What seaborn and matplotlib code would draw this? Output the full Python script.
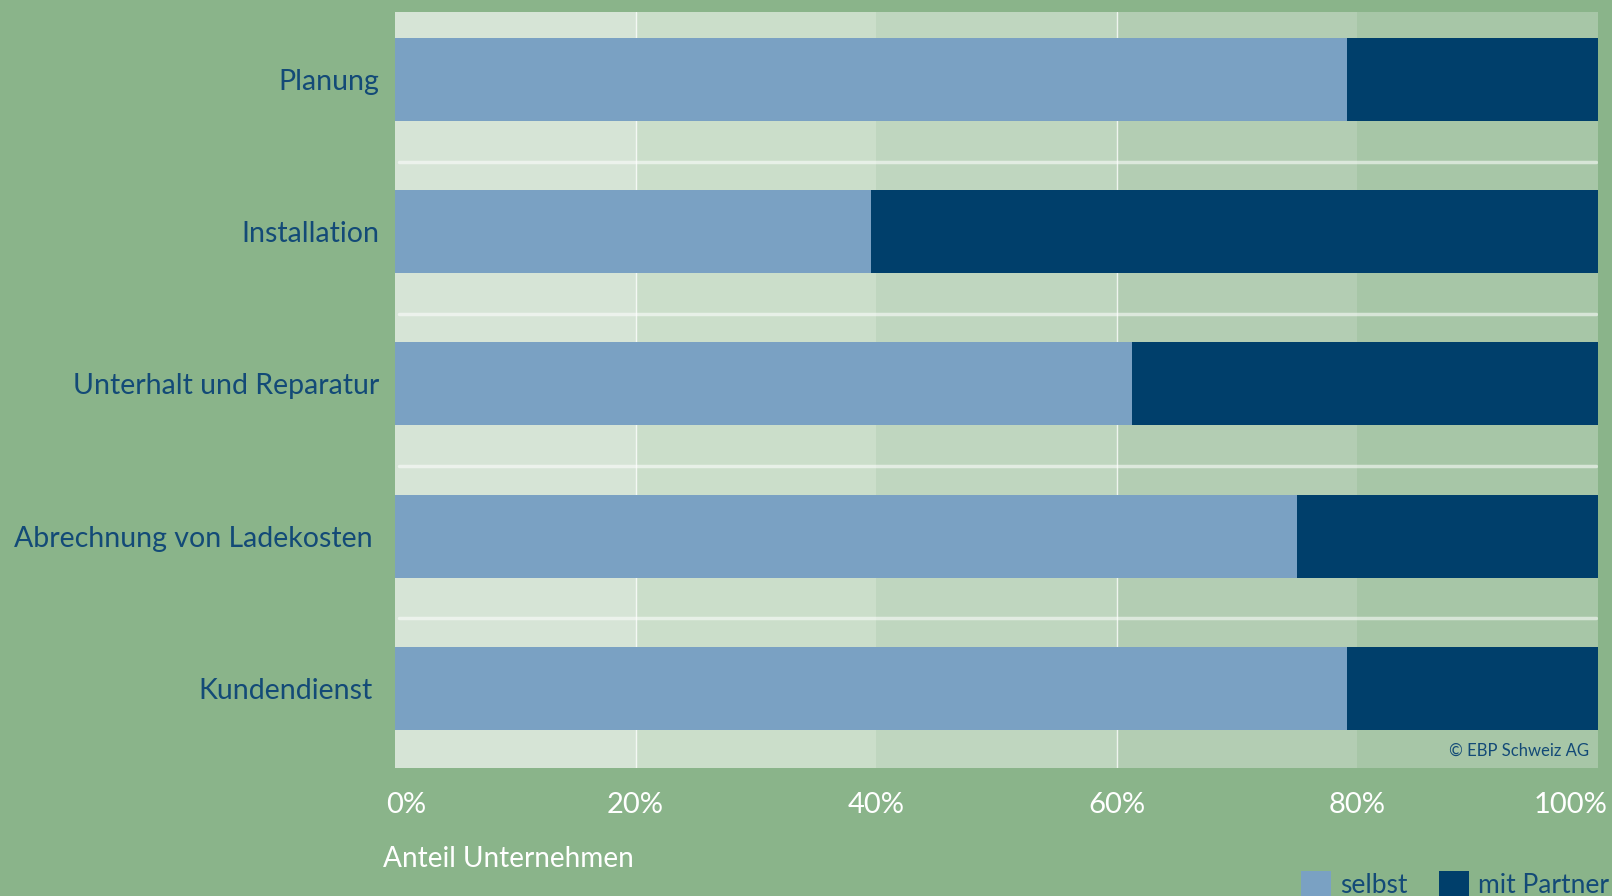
import matplotlib
matplotlib.use("Agg")
import matplotlib.pyplot as plt
import matplotlib.transforms as mtransforms
from matplotlib.patches import Patch
import seaborn as sns

# Data (share of companies, %)
categories = ['Planung', 'Installation', 'Unterhalt und Reparatur',
              'Abrechnung von Ladekosten', 'Kundendienst']
selbst = [79.1, 39.6, 61.3, 75.0, 79.1]
mit_partner = [20.9, 60.4, 38.7, 25.0, 20.9]
tick_values = [0, 20, 40, 60, 80, 100]
tick_labels = ['0%', '20%', '40%', '60%', '80%', '100%']

bg = '#8ab48a'
c_selbst = '#7aa1c3'
c_partner = '#003f6b'
c_text = '#134a77'
band_colors = ['#d6e4d6', '#cbdeca', '#bfd6bf', '#b3cdb3', '#a7c6a7']

sns.set_theme(style='white')
plt.rcParams['font.family'] = ['Lato', 'DejaVu Sans']

fig = plt.figure(figsize=(16.12, 8.96), dpi=100, facecolor=bg)
ax = fig.add_axes([395 / 1612, 1 - 768 / 896, 1203 / 1612, 756 / 896])
ax.set_facecolor(bg)

# background bands
for i in range(5):
    ax.axvspan(tick_values[i], tick_values[i + 1], color=band_colors[i], lw=0, zorder=0)
for x in [20, 60]:
    ax.axvline(x, color='white', lw=1, alpha=0.8, zorder=0.5)

totals = [s + p for s, p in zip(selbst, mit_partner)]
sns.barplot(x=totals, y=categories, color=c_partner, width=0.545, linewidth=0,
            saturation=1, orient='h', ax=ax, zorder=2)
sns.barplot(x=selbst, y=categories, color=c_selbst, width=0.545, linewidth=0,
            saturation=1, orient='h', ax=ax, zorder=3)

# separators between categories
for i in range(len(categories) - 1):
    ax.axhline(i + 0.54, xmin=0.003, xmax=0.998, color='white', lw=2.5, alpha=0.55, zorder=1)

ax.set_xlim(0, 100)
ax.set_ylim(4.522, -0.443)
for s in ax.spines.values():
    s.set_visible(False)

ax.set_xticks(tick_values)
ax.set_xticklabels(tick_labels, color='white', fontsize=21)
ax.tick_params(axis='x', length=0, pad=17)
ax.tick_params(axis='y', length=0, pad=11, labelsize=20.5, labelcolor=c_text)
ax.set_xlabel('')
ax.set_ylabel('')

xl = ax.get_xticklabels()
xl[0].set_ha('left')
xl[0].set_transform(xl[0].get_transform() + mtransforms.ScaledTranslation(-9 / 100, 0, fig.dpi_scale_trans))
xl[-1].set_ha('right')
xl[-1].set_transform(xl[-1].get_transform() + mtransforms.ScaledTranslation(9 / 100, 0, fig.dpi_scale_trans))

yl = ax.get_yticklabels()
for idx in [3, 4]:
    yl[idx].set_transform(yl[idx].get_transform() + mtransforms.ScaledTranslation(-7 / 100, 0, fig.dpi_scale_trans))

fig.text(383 / 1612, 1 - 867 / 896, 'Anteil Unternehmen', color='white', fontsize=20.2,
         ha='left', va='baseline')

ax.text(0.9925, 0.0225, '\u00a9 EBP Schweiz AG', transform=ax.transAxes, ha='right',
        va='center', fontsize=12, color=c_text, zorder=5)

handles = [Patch(facecolor=c_selbst, edgecolor='none'), Patch(facecolor=c_partner, edgecolor='none')]
fig.legend(handles, ['selbst', 'mit Partner'], loc='upper right',
           bbox_to_anchor=(1609 / 1612, 1 - 871 / 896), bbox_transform=fig.transFigure,
           ncol=2, frameon=False, fontsize=19, labelcolor=c_text,
           handlelength=1.12, handleheight=1.2, handletextpad=0.35,
           columnspacing=1.2, borderpad=0, borderaxespad=0)

fig.savefig('out.png', dpi=100, facecolor=bg)
